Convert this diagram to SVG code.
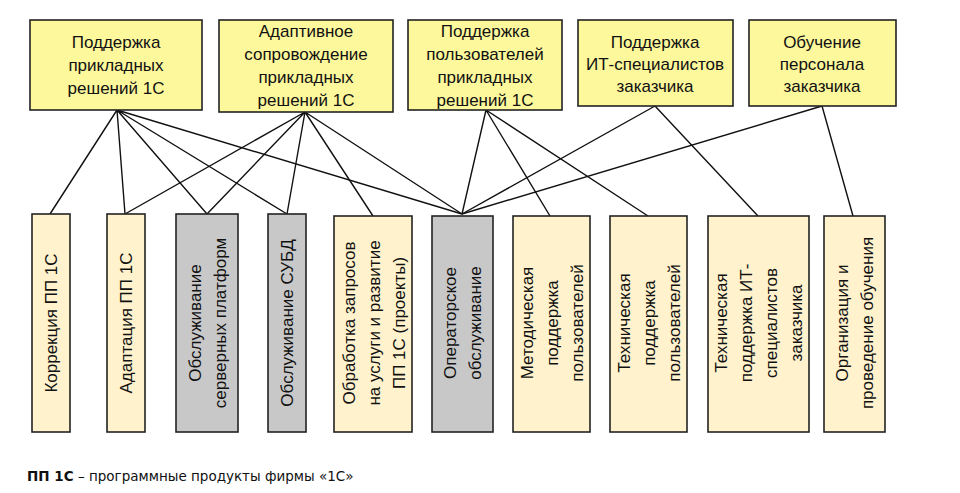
<svg xmlns="http://www.w3.org/2000/svg" width="960" height="493" viewBox="0 0 960 493">
<style>
.t{font-family:"Liberation Sans",Arial,sans-serif;font-size:17px;fill:#111;text-anchor:middle}
.top{fill:#fdf89c;stroke:#222;stroke-width:1.6}
.lt{fill:#fff2cc;stroke:#222;stroke-width:1.6}
.gr{fill:#c8c8c8;stroke:#222;stroke-width:1.6}
.c{stroke:#111;stroke-width:1.4;fill:none}
</style>
<rect width="960" height="493" fill="#fff"/>
<g id="connectors" class="c">
<path d="M117 110L50 214M117 110L125 214M117 110L207 214M117 110L287 214M117 110L462 214"/>
<path d="M305 112L125 214M305 112L207 214M305 112L287 214M305 112L373 216M305 112L462 214"/>
<path d="M486 110L462 214M486 110L550 216M486 110L648 216"/>
<path d="M655 106L462 214M655 106L758 216"/>
<path d="M822 106L462 214M822 106L853 216"/>
</g>
<g id="p1"><rect class="top" x="30" y="20" width="172" height="90"/><text class="t"><tspan x="116" y="48">Поддержка</tspan><tspan x="116" y="71">прикладных</tspan><tspan x="116" y="94">решений 1С</tspan></text></g>
<g id="p2"><rect class="top" x="219" y="20" width="174" height="92"/><text class="t"><tspan x="306" y="37">Адаптивное</tspan><tspan x="306" y="60">сопровождение</tspan><tspan x="306" y="83">прикладных</tspan><tspan x="306" y="106">решений 1С</tspan></text></g>
<g id="p3"><rect class="top" x="408" y="20" width="154" height="90"/><text class="t"><tspan x="485" y="37">Поддержка</tspan><tspan x="485" y="60">пользователей</tspan><tspan x="485" y="83">прикладных</tspan><tspan x="485" y="106">решений 1С</tspan></text></g>
<g id="p4"><rect class="top" x="578" y="20" width="155" height="86"/><text class="t"><tspan x="655" y="48">Поддержка</tspan><tspan x="655" y="70">ИТ-специалистов</tspan><tspan x="655" y="92">заказчика</tspan></text></g>
<g id="p5"><rect class="top" x="749" y="20" width="147" height="86"/><text class="t"><tspan x="822" y="48">Обучение</tspan><tspan x="822" y="70">персонала</tspan><tspan x="822" y="92">заказчика</tspan></text></g>

<g id="c1"><rect class="lt" x="32" y="214" width="38" height="218"/><text class="t" transform="translate(57 323) rotate(-90)">Коррекция ПП 1С</text></g>
<g id="c2"><rect class="lt" x="107" y="214" width="38" height="218"/><text class="t" transform="translate(132 323) rotate(-90)">Адаптация ПП 1С</text></g>
<g id="c3"><rect class="gr" x="176" y="214" width="62" height="218"/><text class="t" transform="translate(207 323) rotate(-90)"><tspan x="0" y="-6">Обслуживание</tspan><tspan x="0" y="19">серверных платформ</tspan></text></g>
<g id="c4"><rect class="gr" x="268" y="214" width="38" height="218"/><text class="t" transform="translate(293 323) rotate(-90)">Обслуживание СУБД</text></g>
<g id="c5"><rect class="lt" x="334" y="216" width="78" height="216"/><text class="t" transform="translate(373 323) rotate(-90)"><tspan x="0" y="-18">Обработка запросов</tspan><tspan x="0" y="7">на услуги и развитие</tspan><tspan x="0" y="32">ПП 1С (проекты)</tspan></text></g>
<g id="c6"><rect class="gr" x="432" y="216" width="61" height="216"/><text class="t" transform="translate(462 323) rotate(-90)"><tspan x="0" y="-6">Операторское</tspan><tspan x="0" y="19">обслуживание</tspan></text></g>
<g id="c7"><rect class="lt" x="513" y="216" width="77" height="216"/><text class="t" transform="translate(551 323) rotate(-90)"><tspan x="0" y="-18">Методическая</tspan><tspan x="0" y="7">поддержка</tspan><tspan x="0" y="32">пользователей</tspan></text></g>
<g id="c8"><rect class="lt" x="610" y="216" width="77" height="216"/><text class="t" transform="translate(648 323) rotate(-90)"><tspan x="0" y="-18">Техническая</tspan><tspan x="0" y="7">поддержка</tspan><tspan x="0" y="32">пользователей</tspan></text></g>
<g id="c9"><rect class="lt" x="708" y="216" width="101" height="216"/><text class="t" transform="translate(758 323) rotate(-90)"><tspan x="0" y="-31">Техническая</tspan><tspan x="0" y="-6">поддержка ИТ-</tspan><tspan x="0" y="19">специалистов</tspan><tspan x="0" y="44">заказчика</tspan></text></g>
<g id="c10"><rect class="lt" x="824" y="216" width="61" height="216"/><text class="t" transform="translate(854 323) rotate(-90)"><tspan x="0" y="-6">Организация и</tspan><tspan x="0" y="19">проведение обучения</tspan></text></g>

<text x="27" y="481" style="font-family:'DejaVu Sans',Verdana,sans-serif;font-size:13.5px;fill:#111"><tspan font-weight="bold">ПП 1С</tspan> – программные продукты фирмы «1С»</text>
</svg>
